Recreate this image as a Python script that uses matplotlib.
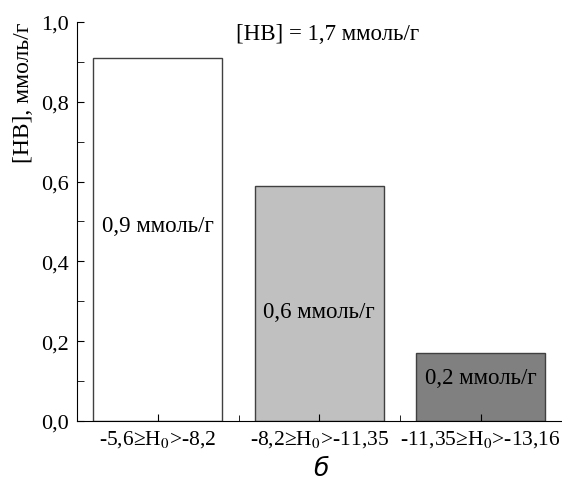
import matplotlib
matplotlib.use('Agg')
import matplotlib.pyplot as plt
from matplotlib.ticker import MultipleLocator, FuncFormatter

plt.rcParams['font.family'] = ['Liberation Serif', 'DejaVu Serif']
plt.rcParams['mathtext.fontset'] = 'stix'

categories = ['-5,6≥H$_0$>-8,2', '-8,2≥H$_0$>-11,35', '-11,35≥H$_0$>-13,16']
values = [0.91, 0.59, 0.17]
labels = ['0,9 ммоль/г', '0,6 ммоль/г', '0,2 ммоль/г']
colors = ['white', '#c0c0c0', '#808080']
label_y = [0.49, 0.275, 0.11]

fig = plt.figure(figsize=(5.62, 4.89), dpi=100)
ax = fig.add_axes([0.137, 0.137, 0.868, 0.816])

x = range(len(values))
ax.bar(x, values, width=0.8, color=colors, edgecolor='#404040', linewidth=1)
for xi, lab, ly in zip(x, labels, label_y):
    ax.text(xi, ly, lab, ha='center', va='center', fontsize=16.5)

ax.set_xlim(-0.5, 2.52)
ax.set_ylim(0, 1.0)
ax.set_xticks(list(x))
ax.set_xticklabels(categories, fontsize=15.5)
ax.xaxis.set_minor_locator(MultipleLocator(0.5))
ax.yaxis.set_major_locator(MultipleLocator(0.2))
ax.yaxis.set_minor_locator(MultipleLocator(0.1))
ax.yaxis.set_major_formatter(FuncFormatter(lambda v, p: f'{v:.1f}'.replace('.', ',')))
ax.tick_params(axis='y', labelsize=16, direction='in', length=5, pad=6)
ax.tick_params(axis='y', which='minor', direction='in', length=5)
ax.tick_params(axis='x', direction='in', length=5, pad=5)
ax.tick_params(axis='x', which='minor', direction='in', length=4)
ax.spines['top'].set_visible(False)
ax.spines['right'].set_visible(False)

fig.text(0.041, 1 - 93 / 489, '[HB], ммоль/г', rotation=90, ha='center',
         va='center', fontsize=17)
ax.text(0.514, 0.997, '[HB] = 1,7 ммоль/г', transform=ax.transAxes,
        ha='center', va='top', fontsize=16.5)
fig.text(0.571, 0.04, 'б', ha='center', va='center', fontsize=18,
         style='italic', family='DejaVu Sans')

fig.savefig('out.png', dpi=100)
